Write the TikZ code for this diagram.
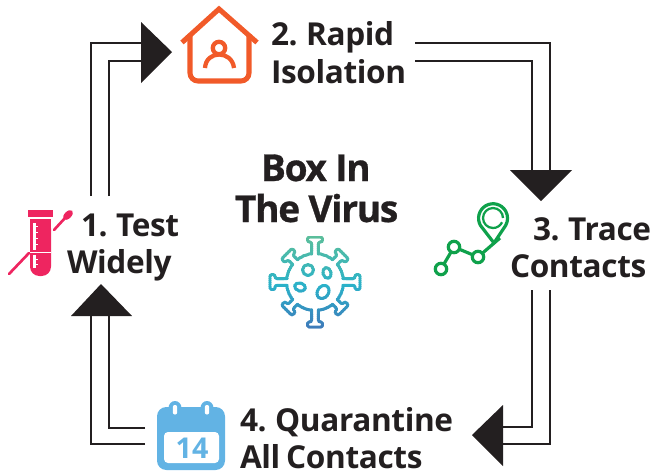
\documentclass[tikz,border=0pt]{standalone}
\usepackage{fontspec}
\setmainfont{Open Sans}
\newfontfamily\titlefont[LetterSpace=-3.5,FakeBold=0.8]{Open Sans Bold}
\newfontfamily\labelfont[LetterSpace=-1.2,WordSpace=0.75]{Open Sans Bold}
\definecolor{ink}{HTML}{231F20}
\definecolor{orangec}{HTML}{F15A29}
\definecolor{pinkc}{HTML}{EE2560}
\definecolor{greenc}{HTML}{0FA14B}
\definecolor{bluec}{HTML}{62B3E4}
\definecolor{vA}{HTML}{5BBE9B}
\definecolor{vB}{HTML}{2BB2C9}
\definecolor{vC}{HTML}{3F74B8}
\tikzset{
  wire/.style={draw=ink,line width=1.5pt,line join=miter},
  head/.style={fill=ink,draw=none},
  label/.style={anchor=base west,inner sep=0pt,outer sep=0pt,text=ink,font=\labelfont\fontsize{23.7}{28}\selectfont},
  title/.style={anchor=base west,inner sep=0pt,outer sep=0pt,text=ink,font=\titlefont\fontsize{27.8}{30}\selectfont},
  vstroke/.style={line width=2.2pt,line join=round,line cap=round},
}
\newcommand\virusart[1]{%
  \draw[vstroke,draw=#1] (315,282) circle (28.5);
  \foreach \a/\L in {0/45,90/45,180/45,270/45,45/40,135/40,225/40,315/40}{%
    \begin{scope}[shift={(315,282)},rotate=\a]
      \fill[white] (26,-2.4) rectangle (31,2.4);
      \pgfmathsetmacro\Lb{\L-5}
      \draw[vstroke,draw=#1,rounded corners=1.5pt] (28,-3.4) -- (\Lb,-3.4) -- (\Lb,-7.5) -- (\L,-7.5) -- (\L,7.5) -- (\Lb,7.5) -- (\Lb,3.4) -- (28,3.4);
    \end{scope}}
  \draw[vstroke,draw=#1] (308,270) circle (5.5);
  \begin{scope}[shift={(327,273)},rotate=15]\draw[vstroke,draw=#1] (0,0) ellipse (4 and 5.5);\end{scope}
  \begin{scope}[shift={(300,287)},rotate=-15]\draw[vstroke,draw=#1] (0,0) ellipse (5.5 and 4);\end{scope}
  \begin{scope}[shift={(323,292)},rotate=-35]\draw[vstroke,draw=#1] (0,0) ellipse (5.5 and 7);\end{scope}
}
\begin{document}
\begin{tikzpicture}[x=0.75pt,y=-0.75pt]
\useasboundingbox (0,0) rectangle (650,472);
% connector ends
\coordinate (a1) at (91,196);  \coordinate (a2) at (91,43);   \coordinate (a3) at (141,43);
\coordinate (b1) at (109,196); \coordinate (b2) at (109,61);  \coordinate (b3) at (141,61);
\coordinate (c1) at (415,43);  \coordinate (c2) at (550,43);  \coordinate (c3) at (550,170);
\coordinate (d1) at (415,61);  \coordinate (d2) at (532,61);  \coordinate (d3) at (532,170);
\coordinate (e1) at (550,290); \coordinate (e2) at (550,444); \coordinate (e3) at (503,444);
\coordinate (f1) at (532,290); \coordinate (f2) at (532,427); \coordinate (f3) at (503,427);
\coordinate (g1) at (145,444); \coordinate (g2) at (91,444);  \coordinate (g3) at (91,316);
\coordinate (h1) at (145,428); \coordinate (h2) at (109,428); \coordinate (h3) at (109,316);
\draw[wire] (a1) -- (a2) -- (a3);
\draw[wire] (b1) -- (b2) -- (b3);
\draw[wire] (c1) -- (c2) -- (c3);
\draw[wire] (d1) -- (d2) -- (d3);
\draw[wire] (e1) -- (e2) -- (e3);
\draw[wire] (f1) -- (f2) -- (f3);
\draw[wire] (g1) -- (g2) -- (g3);
\draw[wire] (h1) -- (h2) -- (h3);
% arrowheads
\fill[head] (141,22) -- (172,52) -- (141,83) -- cycle;
\fill[head] (510,170) -- (572,170) -- (541,201) -- cycle;
\fill[head] (503,405) -- (472,435) -- (503,466) -- cycle;
\fill[head] (71,316) -- (101,284) -- (132,316) -- cycle;
% labels
\node[label] (t2a) at (271,45) {2. Rapid};
\node[label] (t2b) at (271,83) {Isolation};
\node[label] (t1a) at (81,236) {1. Test};
\node[label] (t1b) at (67,273) {Widely};
\node[label] (t3a) at (533,240) {3. Trace};
\node[label] (t3b) at (510,277) {Contacts};
\node[label] (t4a) at (240,431) {4. Quarantine};
\node[label] (t4b) at (240,468) {All Contacts};
\node[title] (t0a) at (261,181) {Box In};
\node[title] (t0b) at (235,222) {The Virus};
% house icon
\draw[orangec,line width=3.8pt] (182,42.5) -- (219,9) -- (257,42.5);
\draw[orangec,line width=3.8pt,rounded corners=6pt] (190,34) -- (190,81) -- (249,81) -- (249,34);
\draw[orangec,line width=3.2pt] (219,48) circle (6.2);
\draw[orangec,line width=3.2pt] (205,68) .. controls (206,50) and (232,50) .. (234,68);
% test tube icon
\fill[pinkc] (28,210) rectangle (53,217);
\fill[pinkc,rounded corners=7pt] (30,219) -- (30,276) -- (51,276) -- (51,219) -- cycle;
\fill[pinkc] (30,219) rectangle (51,235);
\fill[white] (33,223) rectangle (35.5,250);
\fill[white] (30,251.5) rectangle (51,252.7);
\fill[white] (33,255) rectangle (35.5,268);
\foreach \ty in {226,232,238,244}{\fill[white] (33,\ty) rectangle (38,\ty+1.3);}
\foreach \ty in {259,264}{\fill[white] (33,\ty) rectangle (38,\ty+1.3);}
\draw[pinkc,line width=2pt,line cap=round] (9,274) -- (29,253);
\draw[pinkc,line width=2pt,line cap=round] (54,230) -- (65,218);
\begin{scope}[shift={(68,215)},rotate=45]\fill[pinkc] (0,0) ellipse (6 and 3.5);\end{scope}
% pin icon
\draw[greenc,line width=2.4pt,line join=round] (494,243) -- (480.5,225.5) arc[start angle=150,end angle=390,radius=14.5] -- cycle;
\draw[greenc,line width=1.7pt] (503,218) arc[start angle=0,end angle=-335,radius=10];
\draw[greenc,line width=2.4pt] (441,269) -- (454,247) -- (478,257) -- (500,238);
\draw[greenc,line width=2.4pt,fill=white] (441,269) circle (5.7);
\draw[greenc,line width=2.4pt,fill=white] (454,247) circle (5.7);
\draw[greenc,line width=2.4pt,fill=white] (478,257) circle (5.7);
% virus icon
\foreach \i in {0,...,47}{%
  \pgfmathsetmacro\yy{236+2*\i}
  \pgfmathsetmacro\yz{\yy+2.3}
  \pgfmathsetmacro\pa{\i<24 ? 100*(1-\i/24) : 100*(1-(\i-24)/24)}
  \ifnum\i<24 \colorlet{bandc}{vA!\pa!vB}\else \colorlet{bandc}{vB!\pa!vC}\fi
  \begin{scope}
    \clip (260,\yy) rectangle (370,\yz);
    \virusart{bandc}
  \end{scope}}
% calendar icon
\fill[bluec,rounded corners=7pt] (157,407) rectangle (225,470);
\fill[bluec] (175,408) ellipse (6.5 and 7);
\fill[bluec] (207,408) ellipse (6.5 and 7);
\fill[white,rounded corners=1.5pt] (172.8,405) rectangle (177.2,414.5);
\fill[white,rounded corners=1.5pt] (204.8,405) rectangle (209.2,414.5);
\fill[white,rounded corners=3pt] (164,432) -- (164,463) -- (219,463) -- (219,432) -- cycle;
\node[anchor=base,inner sep=0pt,text=bluec,font=\fontsize{21.5}{24}\selectfont] (cal) at (192,458) {\textbf{14}};
\end{tikzpicture}
\end{document}
